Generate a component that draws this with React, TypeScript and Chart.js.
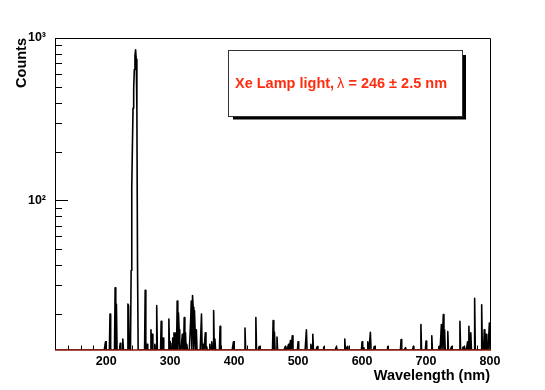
import React, { useEffect, useRef } from 'react';
import { Chart, registerables } from 'chart.js';

Chart.register(...registerables);

// ---- axis ranges & ticks ----
const X_MIN = 120;
const X_MAX = 800;
const Y_MIN = 12;
const Y_MAX = 1000;
const xMajorTicks = [200, 300, 400, 500, 600, 700, 800];
const xMinorTicks = [140, 160, 180, 220, 240, 260, 280, 320, 340, 360, 380, 420, 440, 460, 480, 520, 540, 560, 580, 620, 640, 660, 680, 720, 740, 760, 780];
const yMajorTicks = [100, 1000];
const yTickLabels = ['10\u00b2', '10\u00b3'];
const yMinorTicks = [20, 30, 40, 50, 60, 70, 80, 90, 200, 300, 400, 500, 600, 700, 800, 900];

// ---- data (1 nm bins) ----
const peakWavelengths = [238, 239, 240, 241, 242, 243, 244, 245, 246, 247, 248, 249, 250];
const peakCounts = [12, 37, 120, 215, 370, 490, 640, 780, 845, 740, 360, 40, 12];

const lineWavelengths = [
  199, 206, 214, 216, 222, 226, 234, 235,
  261, 264, 270, 272, 276, 279, 286, 289, 298, 301, 304, 306, 307, 309, 311, 313, 314,
  319, 322, 324, 326, 332, 333, 335, 336, 338, 339, 341, 349, 352, 355, 357, 362, 365,
  368, 370, 378, 399, 417, 434, 439,
  461, 463, 467, 480, 485, 488, 491, 500, 513, 520, 523, 530, 540, 560, 573, 577, 600, 602, 609,
  613, 619, 640, 661, 668, 680, 692, 700, 709, 720, 724, 727, 729, 734, 740, 753, 758, 760, 765,
  767, 770, 776, 787, 791, 794, 799,
];
const lineCounts = [
  13.5, 20, 29, 23, 13.2, 14, 23, 22.5,
  28, 13, 16, 15, 13, 22.5, 18, 14.2, 18.6, 13.2, 14.2, 15.3, 15, 15.3, 24, 20.3, 16,
  15, 19, 15.3, 13, 18, 24, 26, 22, 21, 16, 16, 20, 13, 15.3, 12.6, 13, 13.5,
  21, 14, 16.8, 13.5, 16.4, 19, 12.6,
  18.2, 15.5, 14.4, 12.6, 13, 13.7, 14.7, 13.5, 16, 13, 15, 12.6, 12.5, 12.6, 14, 12.6, 13.5, 12.4, 13.5,
  15.4, 12.6, 12.6, 13.9, 12.4, 12.6, 17.2, 13.6, 14.7, 12.6, 17.2, 19.8, 16, 15.6, 12.6, 18, 12.5, 12.6, 13.5,
  16.8, 15.3, 25, 22.8, 16, 15, 17.6,
];
// empty bins sit on the frame bottom, as ROOT draws them on a log axis
const EMPTY_BIN = Y_MIN;

const FONT = '"Liberation Sans", Arial, Helvetica, sans-serif';

function buildHist() {
  const m = new Map<number, number>();
  lineWavelengths.forEach((w, i) => m.set(w, lineCounts[i]));
  peakWavelengths.forEach((w, i) => m.set(w, peakCounts[i]));
  const out: { x: number; y: number }[] = [];
  for (let w = X_MIN; w <= X_MAX; w++) out.push({ x: w, y: m.has(w) ? (m.get(w) as number) : EMPTY_BIN });
  return out;
}

const framePlugin = {
  id: 'rootFrame',
  afterDatasetsDraw(chart: any) {
    const { ctx, chartArea } = chart;
    const xs = chart.scales.x;
    const ys = chart.scales.y;
    const { left, right, top, bottom } = chartArea;
    ctx.save();
    ctx.strokeStyle = '#000';
    ctx.lineWidth = 1;
    const tick = (x1: number, y1: number, x2: number, y2: number) => {
      ctx.beginPath();
      ctx.moveTo(x1, y1);
      ctx.lineTo(x2, y2);
      ctx.stroke();
    };
    xMajorTicks.forEach((v) => {
      const px = Math.round(xs.getPixelForValue(v)) + 0.5;
      tick(px, bottom, px, bottom - 9);
    });
    xMinorTicks.forEach((v) => {
      const px = Math.round(xs.getPixelForValue(v)) + 0.5;
      tick(px, bottom, px, bottom - 4.5);
    });
    yMajorTicks.forEach((v) => {
      const py = Math.round(ys.getPixelForValue(v)) + 0.5;
      tick(left, py, left + 13, py);
    });
    yMinorTicks.forEach((v) => {
      const py = Math.round(ys.getPixelForValue(v)) + 0.5;
      tick(left, py, left + 7, py);
    });
    // frame
    ctx.beginPath();
    ctx.moveTo(Math.round(left) + 0.5, bottom);
    ctx.lineTo(Math.round(left) + 0.5, Math.round(top) + 0.5);
    ctx.lineTo(Math.round(right) + 0.5, Math.round(top) + 0.5);
    ctx.lineTo(Math.round(right) + 0.5, bottom);
    ctx.stroke();
    ctx.strokeStyle = '#8b1a05';
    ctx.lineWidth = 1.5;
    ctx.beginPath();
    ctx.moveTo(left, bottom);
    ctx.lineTo(right + 1, bottom);
    ctx.stroke();

    // text box (pave)
    ctx.fillStyle = '#000';
    ctx.fillRect(233, 55, 233, 64.5);
    ctx.fillStyle = '#fff';
    ctx.fillRect(228.5, 50.5, 234, 66);
    ctx.strokeStyle = '#333';
    ctx.lineWidth = 1;
    ctx.strokeRect(228.5, 50.5, 234, 66);

    ctx.fillStyle = '#ff2d10';
    ctx.textBaseline = 'alphabetic';
    ctx.textAlign = 'left';
    let x = 235;
    const y = 88;
    ctx.font = `bold 14.5px ${FONT}`;
    const p1 = 'Xe Lamp light, ';
    ctx.fillText(p1, x, y);
    x += ctx.measureText(p1).width - 1;
    ctx.font = `14.5px ${FONT}`;
    ctx.fillText('\u03bb', x, y);
    x += ctx.measureText('\u03bb').width;
    ctx.font = `bold 14.5px ${FONT}`;
    ctx.fillText(' = 246 \u00b1 2.5 nm', x, y);
    ctx.restore();
  },
};

export default function App() {
  const ref = useRef<HTMLCanvasElement>(null);
  useEffect(() => {
    if (!ref.current) return;
    const chart = new Chart(ref.current, {
      type: 'line',
      data: {
        datasets: [
          {
            data: buildHist(),
            borderColor: '#000',
            borderWidth: 1.6,
            borderJoinStyle: 'round',
            borderCapStyle: 'round',
            pointRadius: 0,
            tension: 0,
            fill: false,
          },
        ],
      },
      options: {
        animation: false,
        responsive: false,
        events: [],
        layout: { padding: { left: 0, right: 55, top: 38, bottom: 0 } },
        plugins: { legend: { display: false }, tooltip: { enabled: false } },
        scales: {
          x: {
            type: 'linear',
            min: X_MIN,
            max: X_MAX,
            grid: { display: false, drawTicks: false },
            border: { display: false },
            afterBuildTicks: (s: any) => {
              s.ticks = xMajorTicks.map((v) => ({ value: v }));
            },
            afterFit: (s: any) => {
              s.height = 40;
            },
            ticks: {
              autoSkip: false,
              maxRotation: 0,
              padding: 4,
              color: '#000',
              font: { family: FONT, size: 12.5, weight: 'bold' },
              callback: (v: any) => String(v),
            },
            title: {
              display: true,
              text: 'Wavelength (nm)',
              align: 'end',
              color: '#000',
              font: { family: FONT, size: 14.5, weight: 'bold' },
              padding: { top: 0, bottom: 5 },
            },
          },
          y: {
            type: 'logarithmic',
            min: Y_MIN,
            max: Y_MAX,
            grid: { display: false, drawTicks: false },
            border: { display: false },
            afterBuildTicks: (s: any) => {
              s.ticks = yMajorTicks.map((v) => ({ value: v }));
            },
            afterFit: (s: any) => {
              s.width = 55;
            },
            ticks: {
              autoSkip: false,
              padding: 9,
              color: '#000',
              font: { family: FONT, size: 12.5, weight: 'bold' },
              callback: (v: any) => {
                const i = yMajorTicks.indexOf(Number(v));
                return i >= 0 ? yTickLabels[i] : '';
              },
            },
            title: {
              display: true,
              text: 'Counts',
              align: 'end',
              color: '#000',
              font: { family: FONT, size: 14.5, weight: 'bold' },
              padding: { top: 13, bottom: 0 },
            },
          },
        },
      },
      plugins: [framePlugin],
    } as any);
    return () => chart.destroy();
  }, []);
  return (
    <div style={{ position: 'absolute', left: 0, top: 0, width: 545, height: 390, background: '#fff' }}>
      <canvas ref={ref} width={545} height={390} style={{ display: 'block' }} />
    </div>
  );
}
